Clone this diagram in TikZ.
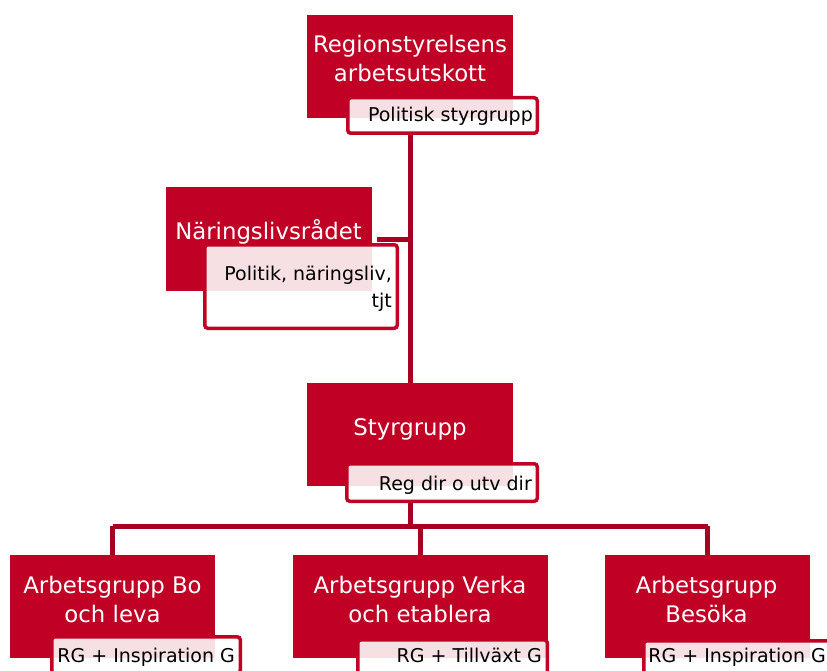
\documentclass[tikz,border=0pt]{standalone}
\usepackage{fontspec}
\setmainfont{DejaVu Sans}
\definecolor{boxred}{RGB}{192,0,36}
\definecolor{linered}{RGB}{168,0,34}
\tikzset{
  redbox/.style={fill=boxred, draw=none, inner sep=0pt},
  subbox/.style={fill=white, fill opacity=0.88, draw=boxred, draw opacity=1, line width=3.5pt, rounded corners=3pt, inner sep=0pt},
  conn/.style={draw=linered, line width=5pt},
  maintext/.style={text=white, inner sep=0pt, anchor=base, font=\fontsize{22.8}{27}\selectfont},
  subtext/.style={text=black, inner sep=0pt, anchor=base east, font=\fontsize{19}{22}\selectfont}
}
\begin{document}
\begin{tikzpicture}[x=1pt,y=-1pt]
\useasboundingbox (0,0) rectangle (827,671);
\clip (0,0) rectangle (827,671);
% red boxes
\node[redbox, minimum width=206pt, minimum height=103pt] (R1) at (410,66.5) {};
\node[redbox, minimum width=206pt, minimum height=104pt] (R2) at (269,239) {};
\node[redbox, minimum width=206pt, minimum height=103pt] (R3) at (410,434.5) {};
\node[redbox, minimum width=205pt, minimum height=103pt] (R4) at (112.5,606.5) {};
\node[redbox, minimum width=255pt, minimum height=103pt] (R5) at (420.5,606.5) {};
\node[redbox, minimum width=205pt, minimum height=103pt] (R6) at (707.5,606.5) {};
% connectors
\coordinate (bus) at (410,526);
\draw[conn] ([xshift=5pt]R2.east) -- (R2.east -| R1.south);
\draw[conn] (R1.south |- 0,133) -- (R3.north);
\draw[conn] (R3.south |- 0,501) -- (bus);
\draw[conn] (R4.north |- bus) -- (R6.north |- bus);
\draw[conn] (R4.north |- bus) -- (R4.north);
\draw[conn] (R5.north |- bus) -- (R5.north);
\draw[conn] (R6.north |- bus) -- (R6.north);
% sub boxes
\node[subbox, minimum width=189.5pt, minimum height=35.5pt] (S1) at (442.5,115.5) {};
\node[subbox, minimum width=192.5pt, minimum height=83.5pt] (S2) at (301,286.5) {};
\node[subbox, minimum width=190.5pt, minimum height=37.5pt] (S3) at (442,482.5) {};
\node[subbox, minimum width=188.5pt, minimum height=36.5pt] (S4) at (146,655) {};
\node[subbox, minimum width=189.5pt, minimum height=36.5pt] (S5) at (452.5,658) {};
\node[subbox, minimum width=189.5pt, minimum height=36.5pt] (S6) at (738.5,659) {};
% texts in red boxes
\node[maintext] (t1a) at (410,53) {Regionstyrelsens};
\node[maintext] (t1b) at (410,82) {arbetsutskott};
\node[maintext] (t2) at (268.5,240) {Näringslivsrådet};
\node[maintext] (t3) at (410,435) {Styrgrupp};
\node[maintext] (t4a) at (112.5,593) {Arbetsgrupp Bo};
\node[maintext] (t4b) at (112.5,622) {och leva};
\node[maintext] (t5a) at (420,593) {Arbetsgrupp Verka};
\node[maintext] (t5b) at (420,622) {och etablera};
\node[maintext] (t6a) at (706.5,593) {Arbetsgrupp};
\node[maintext] (t6b) at (706.5,622) {Besöka};
% texts in sub boxes
\node[subtext] (u1) at (533,122) {Politisk styrgrupp};
\node[subtext] (u2a) at (392,280) {Politik, näringsliv,};
\node[subtext] (u2b) at (392,307) {tjt};
\node[subtext] (u3) at (532,490) {Reg dir o utv dir};
\node[subtext] (u4) at (235,662) {RG + Inspiration G};
\node[subtext] (u5) at (542,662) {RG + Tillväxt G};
\node[subtext] (u6) at (826,662) {RG + Inspiration G};
\end{tikzpicture}
\end{document}
